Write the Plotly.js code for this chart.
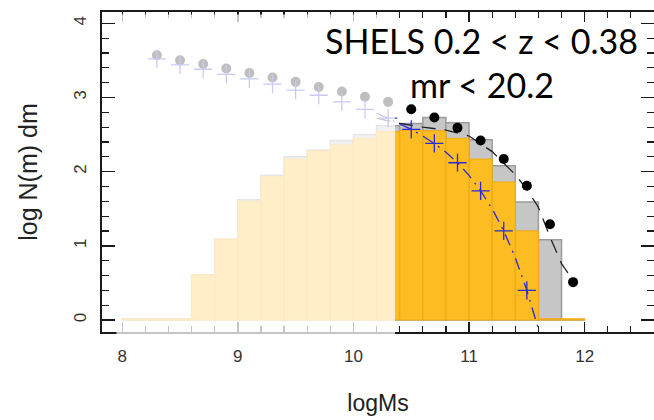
<!DOCTYPE html>
<html>
<head>
<meta charset="utf-8">
<script src="https://cdn.plot.ly/plotly-3.0.1.min.js"></script>
<style>html,body{margin:0;padding:0;background:#fff;}#chart{width:654px;height:420px;}</style>
</head>
<body>
<div id="chart"></div>
<script>
// histogram bin centres (logMs), bin width 0.2
const binCenters = [8.1, 8.3, 8.5, 8.7, 8.9, 9.1, 9.3, 9.5, 9.7, 9.9, 10.1, 10.3, 10.5, 10.7, 10.9, 11.1, 11.3, 11.5, 11.7, 11.9];
// total sample (grey histogram), log N
const totalLogN = [0.015, 0.015, 0.015, 0.61, 1.09, 1.62, 1.95, 2.20, 2.29, 2.42, 2.50, 2.62, 2.65, 2.73, 2.66, 2.43, 2.08, 1.59, 1.08, 0];
// sub-sample (orange histogram), log N
const subLogN = [0.015, 0.015, 0.015, 0.61, 1.09, 1.60, 1.93, 2.17, 2.28, 2.36, 2.45, 2.54, 2.56, 2.55, 2.45, 2.17, 1.86, 1.20, 0.015, 0.015];

// points (black dots) and crosses (blue)
const dotX = [8.3, 8.5, 8.7, 8.9, 9.1, 9.3, 9.5, 9.7, 9.9, 10.1, 10.3, 10.5, 10.7, 10.9, 11.1, 11.3, 11.5, 11.7, 11.9];
const dotY = [3.57, 3.50, 3.45, 3.39, 3.33, 3.27, 3.21, 3.14, 3.08, 3.01, 2.94, 2.84, 2.73, 2.59, 2.42, 2.17, 1.81, 1.29, 0.51];
const crossX = [8.3, 8.5, 8.7, 8.9, 9.1, 9.3, 9.5, 9.7, 9.9, 10.1, 10.3, 10.5, 10.7, 10.9, 11.1, 11.3, 11.5];
const crossY = [3.52, 3.44, 3.38, 3.31, 3.25, 3.18, 3.10, 3.03, 2.94, 2.84, 2.72, 2.57, 2.38, 2.12, 1.74, 1.20, 0.40];

// fitted curves
const blackFitX = [10.2, 10.4, 10.6, 10.8, 11.0, 11.2, 11.4, 11.5, 11.6, 11.7, 11.8, 11.87];
const blackFitY = [2.72, 2.65, 2.60, 2.56, 2.48, 2.27, 1.96, 1.76, 1.52, 1.12, 0.76, 0.60];
const blueFitX = [10.2, 10.3, 10.4, 10.5, 10.6, 10.7, 10.8, 10.9, 11.0, 11.1, 11.2, 11.3, 11.4, 11.5, 11.6, 11.65];
const blueFitY = [2.79, 2.72, 2.65, 2.57, 2.48, 2.38, 2.26, 2.12, 1.95, 1.74, 1.50, 1.20, 0.84, 0.40, -0.12, -0.40];

const xTicks = [8, 9, 10, 11, 12];
const yTicks = [0, 1, 2, 3, 4];
const completenessLimit = 10.36;

const traces = [
  {type: 'bar', x: binCenters, y: totalLogN, width: 0.2,
   marker: {color: '#c6c6c6', line: {color: '#9c9c9c', width: 1.5}}, hoverinfo: 'skip'},
  {type: 'bar', x: binCenters, y: subLogN, width: 0.2,
   marker: {color: '#fdbd22', line: {color: '#eeaa18', width: 1.2}}, hoverinfo: 'skip'},
  {type: 'scatter', mode: 'lines', x: blackFitX, y: blackFitY,
   line: {color: '#222', width: 1.3, dash: '14px,9px'}},
  {type: 'scatter', mode: 'lines', x: blueFitX, y: blueFitY,
   line: {color: '#2a2ad2', width: 1.3, dash: '12px,6px,2px,6px'}},
  {type: 'scatter', mode: 'markers', x: dotX, y: dotY,
   marker: {color: '#000', size: 10, symbol: 'circle'}},
  {type: 'scatter', mode: 'markers', x: crossX, y: crossY,
   marker: {color: '#2a2ad2', size: 13, symbol: 'cross-thin-open', line: {color: '#2a2ad2', width: 1.3}}}
];

const axisCommon = {
  showline: true, linecolor: '#1a1a1a', linewidth: 1.6, mirror: 'ticks',
  showgrid: false, zeroline: false, ticks: 'inside', tickcolor: '#1a1a1a', tickwidth: 1.4,
  tickfont: {family: 'Liberation Sans, Arial, sans-serif', size: 17, color: '#333'}
};

const layout = {
  width: 654, height: 420,
  margin: {l: 102, r: 0, t: 12, b: 88},
  paper_bgcolor: '#fff', plot_bgcolor: '#fff',
  showlegend: false, barmode: 'overlay', bargap: 0,
  xaxis: Object.assign({}, axisCommon, {
    range: [7.825, 12.6], tickvals: xTicks, ticktext: xTicks.map(String), ticklen: 10,
    minor: {ticks: 'inside', dtick: 0.2, tick0: 8, ticklen: 6, tickcolor: '#1a1a1a', tickwidth: 1.2},
    ticklabelstandoff: 8,
    title: {text: 'logMs', font: {family: 'Liberation Sans, Arial, sans-serif', size: 23, color: '#222'}, standoff: 30}
  }),
  yaxis: Object.assign({}, axisCommon, {
    range: [-0.162, 4.152], tickvals: yTicks, ticktext: yTicks.map(String), ticklen: 13, tickangle: -90,
    minor: {ticks: 'inside', dtick: 0.2, tick0: 0, ticklen: 7, tickcolor: '#1a1a1a', tickwidth: 1.2},
    ticklabelstandoff: 8,
    title: {text: 'log N(m) dm', font: {family: 'Liberation Sans, Arial, sans-serif', size: 25, color: '#222'}, standoff: 26}
  }),
  shapes: [
    {type: 'rect', layer: 'above', xref: 'x', yref: 'paper', x0: 7.95, x1: completenessLimit, y0: -0.03, y1: 0.992,
     fillcolor: 'rgba(255,255,255,0.75)', line: {width: 0}}
  ],
  annotations: [
    {xref: 'paper', yref: 'paper', x: 0.688, y: 0.91, xanchor: 'center', yanchor: 'middle', showarrow: false,
     text: 'SHELS 0.2 &lt; z &lt; 0.38', font: {family: 'Lato, sans-serif', size: 34, color: '#000'}},
    {xref: 'paper', yref: 'paper', x: 0.688, y: 0.773, xanchor: 'center', yanchor: 'middle', showarrow: false,
     text: 'mr &lt; 20.2', font: {family: 'Lato, sans-serif', size: 34, color: '#000'}}
  ]
};

Plotly.newPlot('chart', traces, layout, {displayModeBar: false, staticPlot: true});
</script>
</body>
</html>
